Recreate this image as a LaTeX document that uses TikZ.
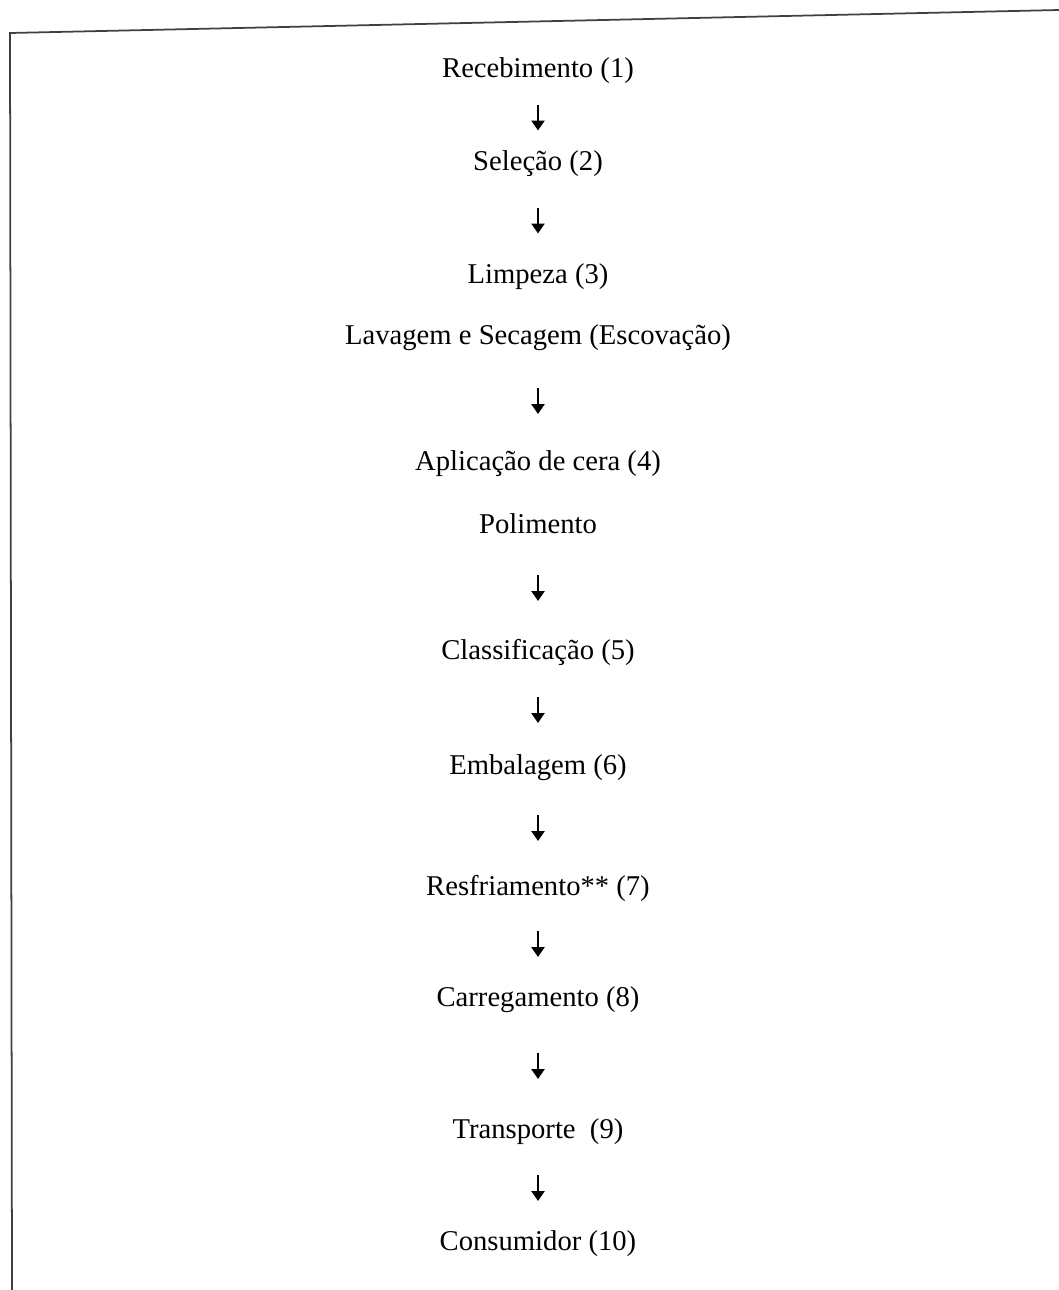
\documentclass[tikz,border=0pt]{standalone}
\usepackage{fontspec}
\setmainfont{Liberation Serif}
\usetikzlibrary{arrows.meta,calc}

\tikzset{
    etapa/.style={font=\fontsize{16.3}{19}\selectfont, inner sep=1pt},
    flow/.style={-{Triangle[length=2mm,width=2.6mm]}, line width=1.6pt,
        to path={($(\tikztostart)!0.5!(\tikztotarget)-(0,13)$)
                 -- ($(\tikztostart)!0.5!(\tikztotarget)+(0,13)$)}},
    moldura/.style={line width=1pt, black!75}
}

\begin{document}
\begin{tikzpicture}[x=0.2mm, y=-0.2mm]
                \useasboundingbox (0,0) rectangle (1059,1290);

                % moldura
                \coordinate (canto) at (10,33);
                \coordinate (topo) at (1059,10);
                \coordinate (base) at (12,1290);
                \draw[moldura] (topo) -- (canto) -- (base);

                % etapas
                \node[etapa] (rec) at (538,71)   {Recebimento (1)};
                \node[etapa] (sel) at (538,164)  {Seleção (2)};
                \node[etapa] (lim) at (538,277)  {Limpeza (3)};
                \node[etapa] (lav) at (538,338)  {Lavagem e Secagem (Escovação)};
                \node[etapa] (apl) at (538,464)  {Aplicação de cera (4)};
                \node[etapa] (pol) at (538,524)  {Polimento};
                \node[etapa] (cla) at (538,652)  {Classificação (5)};
                \node[etapa] (emb) at (538,768)  {Embalagem (6)};
                \node[etapa] (res) at (538,888)  {Resfriamento** (7)};
                \node[etapa] (car) at (538,1000) {Carregamento (8)};
                \node[etapa] (tra) at (538,1132) {Transporte\ \ (9)};
                \node[etapa] (con) at (538,1244) {Consumidor (10)};

                % setas
                \draw[flow] (rec) to (sel);
                \draw[flow] (sel) to (lim);
                \draw[flow] (lav) to (apl);
                \draw[flow] (pol) to (cla);
                \draw[flow] (cla) to (emb);
                \draw[flow] (emb) to (res);
                \draw[flow] (res) to (car);
                \draw[flow] (car) to (tra);
                \draw[flow] (tra) to (con);
\end{tikzpicture}
\end{document}
